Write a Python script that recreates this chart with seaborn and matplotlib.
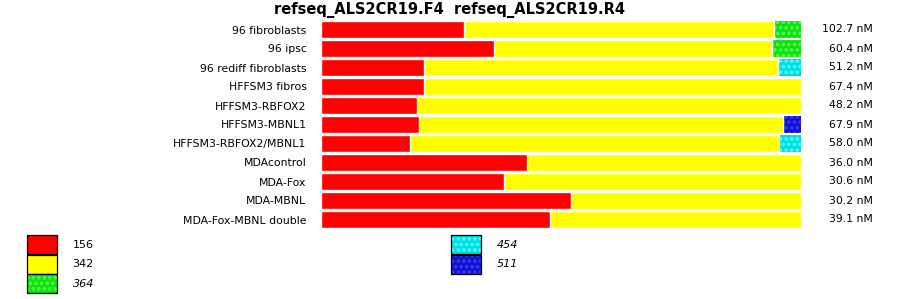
import matplotlib
matplotlib.use("Agg")
import matplotlib.pyplot as plt
from matplotlib.patches import Patch
from matplotlib.legend_handler import HandlerTuple
import seaborn as sns
import pandas as pd

categories = ["96 fibroblasts", "96 ipsc", "96 rediff fibroblasts", "HFFSM3 fibros",
              "HFFSM3-RBFOX2", "HFFSM3-MBNL1", "HFFSM3-RBFOX2/MBNL1", "MDAcontrol",
              "MDA-Fox", "MDA-MBNL", "MDA-Fox-MBNL double"]
pct_156 = [29.8, 36.0, 21.5, 21.5, 19.9, 20.4, 18.5, 42.9, 38.1, 52.1, 47.7]
pct_342 = [64.6, 58.0, 73.8, 78.5, 80.1, 75.8, 76.9, 57.1, 61.9, 47.9, 52.3]
pct_364 = [5.6, 6.0, 0, 0, 0, 0, 0, 0, 0, 0, 0]
pct_454 = [0, 0, 4.7, 0, 0, 0, 4.6, 0, 0, 0, 0]
pct_511 = [0, 0, 0, 0, 0, 3.8, 0, 0, 0, 0, 0]
concentrations = ["102.7 nM", "60.4 nM", "51.2 nM", "67.4 nM", "48.2 nM", "67.9 nM",
                  "58.0 nM", "36.0 nM", "30.6 nM", "30.2 nM", "39.1 nM"]
title = "refseq_ALS2CR19.F4  refseq_ALS2CR19.R4"

sns.set_style("white")
plt.rcParams["font.family"] = ["DejaVu Sans"]
plt.rcParams["hatch.linewidth"] = 1.8
plt.rcParams["text.color"] = "black"
plt.rcParams["ytick.color"] = "black"
plt.rcParams["ytick.labelcolor"] = "black"

df = pd.DataFrame({"sample": categories, "p156": pct_156, "p342": pct_342,
                   "p364": pct_364, "p454": pct_454, "p511": pct_511})
df["c342"] = df["p156"] + df["p342"]
df["total"] = df["c342"] + df["p364"] + df["p454"] + df["p511"]

fig = plt.figure(figsize=(9, 2.99), dpi=100)
W, H = 900, 299
ax = fig.add_axes([321 / W, (H - 229) / H, 480 / W, 209 / H])

bw = 0.92
hatched = [("p364", "#11dd11", "#4cff4c"),
           ("p454", "#00dddd", "#4cffff"),
           ("p511", "#1111cc", "#3a3aff")]
for col, face, dot in hatched:
    sub = df[df[col] > 0]
    sns.barplot(data=sub, x="total", y="sample", order=categories, orient="h",
                color=face, saturation=1, width=bw, edgecolor=dot, linewidth=0,
                hatch="...", ax=ax)

sns.barplot(data=df, x="c342", y="sample", order=categories, orient="h",
            color="#ffff00", saturation=1, width=bw, edgecolor="white",
            linewidth=1.0, ax=ax)
sns.barplot(data=df, x="p156", y="sample", order=categories, orient="h",
            color="#ff0000", saturation=1, width=bw, edgecolor="white",
            linewidth=1.0, ax=ax)

ax.set_xlim(0, 100)
ax.set_ylim(len(categories) - 0.5, -0.5)
ax.set_xticks([])
ax.set_xlabel("")
ax.set_ylabel("")
ax.tick_params(axis="y", length=0, pad=10.5, labelsize=7.8, labelcolor="black")
for s in ax.spines.values():
    s.set_visible(False)

for i, c in enumerate(concentrations):
    ax.text((873 - 321) / 480, i, c, transform=ax.get_yaxis_transform(),
            ha="right", va="center", fontsize=7.8, color="black")

fig.text(0.5, 1 - 13.5 / H, title, ha="center", va="baseline",
         fontsize=10.5, fontweight="bold", color="black")

fs = 8
def legend_at(x, items):
    handles = []
    for lab, face, dot, h in items:
        if h:
            fillp = Patch(facecolor=face, edgecolor=dot, linewidth=0, hatch="...")
        else:
            fillp = Patch(facecolor=face, linewidth=0)
        border = Patch(fill=False, edgecolor="black", linewidth=0.9)
        handles.append((fillp, border))
    lg = fig.legend(handles, [it[0] for it in items], loc="upper left",
                    bbox_to_anchor=(x / W, 1 - 235 / H), frameon=False,
                    borderpad=0, borderaxespad=0, fontsize=fs,
                    handler_map={tuple: HandlerTuple(ndivide=1, pad=0)},
                    handlelength=30 / (fs * 100 / 72), handleheight=2.25,
                    labelspacing=0.05, handletextpad=1.4, labelcolor="black")
    for t, it in zip(lg.get_texts(), items):
        if it[3]:
            t.set_fontstyle("italic")
    return lg

legend_at(27, [("156", "#ff0000", None, False), ("342", "#ffff00", None, False),
               ("364", "#11dd11", "#4cff4c", True)])
legend_at(451, [("454", "#00dddd", "#4cffff", True), ("511", "#1111cc", "#3a3aff", True)])

fig.savefig("out.png", dpi=100)
